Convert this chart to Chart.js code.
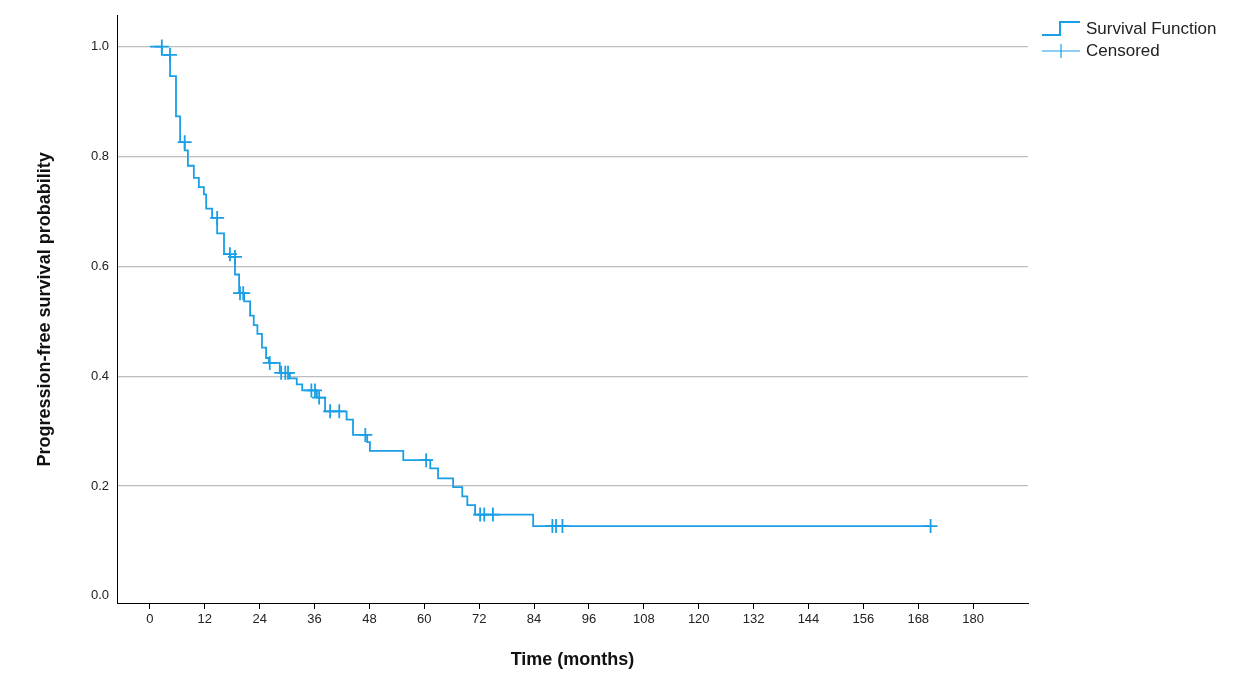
<!DOCTYPE html>
<html><head><meta charset="utf-8">
<script src="https://cdn.jsdelivr.net/npm/chart.js@4"></script>
<style>
body{margin:0;background:#fff;font-family:"Liberation Sans",Arial,sans-serif}
#wrap{position:relative;width:1258px;height:675px}
#leg{position:absolute;left:1040px;top:18px;font-size:17px;color:#222;line-height:22px}
.row{display:flex;align-items:center}
</style></head><body>
<div id="wrap"><canvas id="c" width="1258" height="675"></canvas>
<div id="leg">
<div class="row"><svg width="46" height="20"><path d="M2 16 H20 V3 H40" stroke="#1a9fe6" stroke-width="2" fill="none"/></svg>Survival Function</div>
<div class="row"><svg width="46" height="20"><path d="M2 10 H40 M21 3 V17" stroke="#1a9fe6" stroke-width="1.2" fill="none"/></svg>Censored</div>
</div></div>
<script>
const eventTimes = [0,2.6,4.4,5.7,6.6,7.6,8.3,9.6,10.7,11.8,12.3,13.6,14.7,16.2,17.5,18.6,19.5,20.6,21.9,22.7,23.5,24.5,25.4,26.0,28.4,30.6,32.1,33.3,36.5,38.3,43.0,44.4,47.5,48.1,55.4,61.3,63.0,66.3,68.3,69.4,71.1,83.8,170.7];
const survival =   [1.0,0.985,0.946,0.873,0.826,0.811,0.783,0.761,0.744,0.731,0.705,0.688,0.66,0.622,0.617,0.585,0.551,0.536,0.51,0.493,0.477,0.452,0.433,0.424,0.406,0.396,0.385,0.374,0.361,0.336,0.321,0.293,0.28,0.264,0.247,0.232,0.214,0.198,0.181,0.165,0.148,0.127,0.127];
const censoredTimes = [2.6,4.4,7.6,14.7,17.5,18.6,19.7,20.4,26.2,28.7,29.6,30.2,35.3,36.1,37.0,39.4,41.4,47.1,60.4,72.2,73.1,75.0,88.0,88.8,90.2,170.7];
const xTicks = [0,12,24,36,48,60,72,84,96,108,120,132,144,156,168,180];
const yTicks = [0,0.2,0.4,0.6,0.8,1.0];
const col = '#1a9fe6';
function S(t){let s=1;for(let i=0;i<eventTimes.length;i++){if(eventTimes[i]<t-1e-9)s=survival[i];}return s;}
new Chart(document.getElementById('c'),{
 type:'scatter',
 data:{datasets:[
  {data:eventTimes.map((t,i)=>({x:t,y:survival[i]})),showLine:true,stepped:'before',borderColor:col,borderWidth:1.8,pointRadius:0},
  {data:censoredTimes.map(t=>({x:t,y:S(t)})),pointStyle:'cross',pointRadius:7,borderColor:col,borderWidth:1.8,showLine:false}
 ]},
 options:{responsive:false,animation:false,
  layout:{padding:{top:15,right:230,left:30,bottom:0}},
  plugins:{legend:{display:false},tooltip:{enabled:false}},
  scales:{
   x:{type:'linear',min:-7.2,max:192,
    afterBuildTicks:s=>{s.ticks=xTicks.map(v=>({value:v}));},
    afterFit:s=>{s.height=72;},
    grid:{display:true,drawOnChartArea:false,drawTicks:true,tickLength:6,tickColor:'#000'},
    border:{color:'#000',width:1},
    ticks:{color:'#222',font:{size:13,family:'Liberation Sans'},padding:3,maxRotation:0,autoSkip:false},
    title:{display:true,text:'Time (months)',color:'#111',font:{size:18,weight:'bold',family:'Liberation Sans'},padding:{top:8}}},
   y:{type:'linear',min:-0.013,max:1.056,
    afterBuildTicks:s=>{s.ticks=yTicks.map(v=>({value:v}));},
    afterFit:s=>{s.width=87;},
    grid:{color:v=>v.tick&&v.tick.value>0?'#bdbdbd':'rgba(0,0,0,0)',lineWidth:1.2,drawTicks:false},
    border:{color:'#000',width:1},
    ticks:{color:'#222',font:{size:13,family:'Liberation Sans'},padding:8,callback:v=>v.toFixed(1)},
    title:{display:true,text:'Progression-free survival probability',color:'#111',font:{size:18,weight:'bold',family:'Liberation Sans'},padding:{bottom:14}}}
  }}
});
</script></body></html>
